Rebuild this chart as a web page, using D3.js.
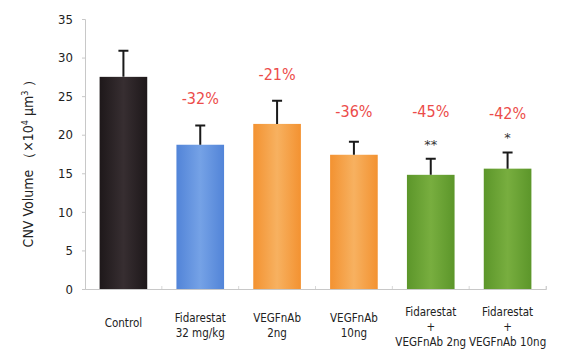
<!DOCTYPE html>
<html>
<head>
<meta charset="utf-8">
<script src="https://cdn.jsdelivr.net/npm/d3@7"></script>
<style>
body { margin: 0; background: #fff; }
</style>
</head>
<body>
<div id="chart"></div>
<script>
// data
var groups = ["Control", "Fidarestat 32", "VEGFnAb 2", "VEGFnAb 10", "F+V 2", "F+V 10"];
var labelLines = [["Control"], ["Fidarestat", "32 mg/kg"], ["VEGFnAb", "2ng"], ["VEGFnAb", "10ng"],
	["Fidarestat", "+", "VEGFnAb 2ng"], ["Fidarestat", "+", "VEGFnAb 10ng"]];
var means = [27.5, 18.7, 21.4, 17.4, 14.8, 15.6];
var errors = [3.4, 2.5, 3.0, 1.7, 2.1, 2.1];
var pctLabels = ["", "-32%", "-21%", "-36%", "-45%", "-42%"];
var stars = ["", "", "", "", "**", "*"];
var yTicks = [0, 5, 10, 15, 20, 25, 30, 35];
var barColors = [
	["#1e181a", "#372e31"],
	["#5284d8", "#75a2e6"],
	["#f39231", "#f7b160"],
	["#f39231", "#f7b160"],
	["#5c962a", "#78ae3f"],
	["#5c962a", "#78ae3f"]
];

var width = 562, height = 350;
var margin = {left: 85, right: 16, top: 19, bottom: 61};

var svg = d3.select("#chart").append("svg")
	.attr("width", width)
	.attr("height", height);

var defs = svg.append("defs");
barColors.forEach(function(c, i) {
	var g = defs.append("linearGradient")
		.attr("id", "grad" + i)
		.attr("x1", "0%").attr("x2", "100%").attr("y1", "0%").attr("y2", "0%");
	g.append("stop").attr("offset", "0%").attr("stop-color", c[0]);
	g.append("stop").attr("offset", "50%").attr("stop-color", c[1]);
	g.append("stop").attr("offset", "100%").attr("stop-color", c[0]);
});

var x = d3.scaleBand().domain(groups).range([margin.left, width - margin.right]).paddingInner(0.38).paddingOuter(0.19);
var y = d3.scaleLinear().domain([0, 35]).range([height - margin.bottom, margin.top]);

// y axis
var yAxis = svg.append("g")
	.attr("transform", "translate(" + margin.left + ",0)")
	.call(d3.axisLeft(y).tickValues(yTicks).tickSize(3).tickPadding(9));
yAxis.select(".domain").attr("stroke", "#c8c8c8");
yAxis.selectAll(".tick line").attr("stroke", "#c8c8c8");
yAxis.selectAll(".tick text")
	.attr("font-family", "'DejaVu Sans Condensed', 'DejaVu Sans', sans-serif")
	.attr("font-size", 13)
	.attr("fill", "#222");

// x axis line
var xAxis = svg.append("g")
	.attr("transform", "translate(0," + y(0) + ")")
	.call(d3.axisBottom(x).tickSize(-3).tickFormat(""));
xAxis.select(".domain").attr("stroke", "#c8c8c8");
xAxis.selectAll(".tick line").attr("stroke", "#d8d8d8")
	.attr("transform", "translate(" + (x.step() / 2) + ",0)");

// bars
svg.selectAll(".bar")
	.data(means)
	.enter().append("rect")
	.attr("class", "bar")
	.attr("x", function(d, i) { return x(groups[i]); })
	.attr("width", x.bandwidth())
	.attr("y", function(d) { return y(d); })
	.attr("height", function(d) { return y(0) - y(d); })
	.attr("fill", function(d, i) { return "url(#grad" + i + ")"; });

// error bars
var capW = 5;
svg.selectAll(".err")
	.data(means)
	.enter().append("path")
	.attr("class", "err")
	.attr("d", function(d, i) {
		var cx = x(groups[i]) + x.bandwidth() / 2;
		return "M" + cx + "," + y(d) + "V" + y(d + errors[i]) +
			"M" + (cx - capW) + "," + y(d + errors[i]) + "H" + (cx + capW);
	})
	.attr("stroke", "#1a1a1a")
	.attr("stroke-width", 2)
	.attr("fill", "none");

// significance stars
svg.selectAll(".star")
	.data(stars)
	.enter().append("text")
	.attr("class", "star")
	.attr("x", function(d, i) { return x(groups[i]) + x.bandwidth() / 2; })
	.attr("y", function(d, i) { return y(means[i] + errors[i]) - 10; })
	.attr("text-anchor", "middle")
	.attr("font-family", "'DejaVu Sans', sans-serif")
	.attr("font-size", 13)
	.attr("fill", "#333")
	.text(function(d) { return d; });

// percent labels
var pctY = [0, 98, 74, 111, 111, 113];
svg.selectAll(".pct")
	.data(pctLabels)
	.enter().append("text")
	.attr("class", "pct")
	.attr("x", function(d, i) { return x(groups[i]) + x.bandwidth() / 2; })
	.attr("y", function(d, i) { return pctY[i] + 6; })
	.attr("text-anchor", "middle")
	.attr("font-family", "'DejaVu Sans Condensed', 'DejaVu Sans', sans-serif")
	.attr("font-size", 16)
	.attr("fill", "#ec4c4a")
	.text(function(d) { return d; });

// category labels
var catG = svg.selectAll(".cat")
	.data(labelLines)
	.enter().append("text")
	.attr("class", "cat")
	.attr("text-anchor", "middle")
	.attr("font-family", "'DejaVu Sans Condensed', 'DejaVu Sans', sans-serif")
	.attr("font-size", 11.5)
	.attr("fill", "#222");
catG.each(function(lines, i) {
	var cx = x(groups[i]) + x.bandwidth() / 2;
	var startY = lines.length == 1 ? 327 : (lines.length == 2 ? 322 : 316);
	d3.select(this).selectAll("tspan")
		.data(lines)
		.enter().append("tspan")
		.attr("x", cx)
		.attr("y", function(d, j) { return startY + j * 15; })
		.text(function(d) { return d; });
});

// y title
var title = svg.append("text")
	.attr("transform", "translate(33,160) rotate(-90)")
	.attr("text-anchor", "middle")
	.attr("font-family", "'DejaVu Sans Condensed', 'DejaVu Sans', sans-serif")
	.attr("font-size", 14)
	.attr("fill", "#222");
title.append("tspan").text("CNV Volume （×10");
title.append("tspan").attr("baseline-shift", "super").attr("font-size", 9).text("4");
title.append("tspan").text(" μm");
title.append("tspan").attr("baseline-shift", "super").attr("font-size", 9).text("3");
title.append("tspan").text(" ）");
</script>
</body>
</html>
